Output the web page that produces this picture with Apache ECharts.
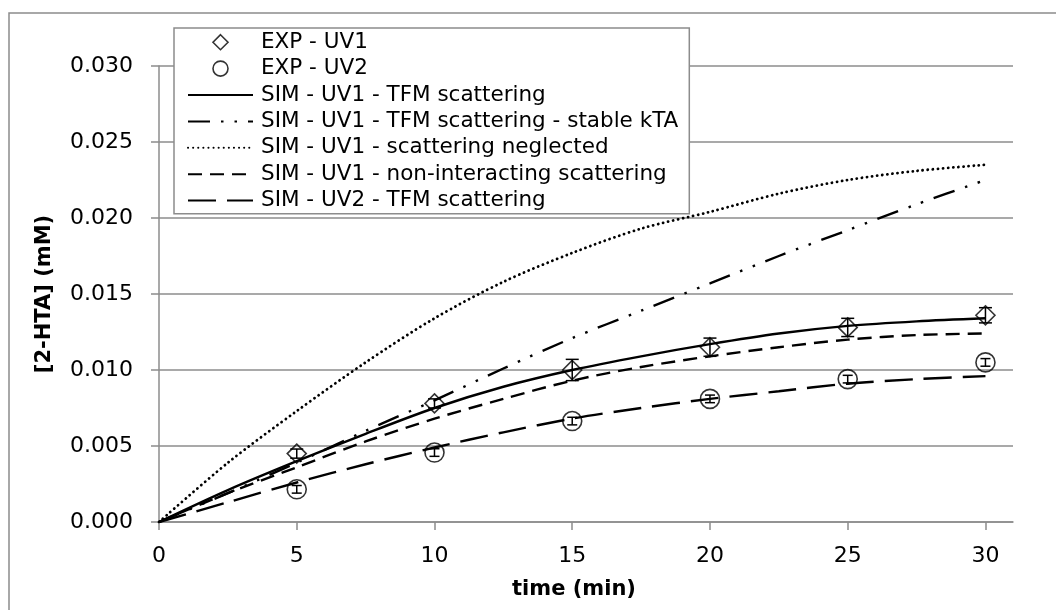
<!DOCTYPE html>
<html>
<head>
<meta charset="utf-8">
<script src="https://cdn.jsdelivr.net/npm/echarts@6/dist/echarts.min.js"></script>
<style>
html,body{margin:0;padding:0;background:#fff;}
#chart{width:1056px;height:610px;}
</style>
</head>
<body>
<div id="chart"></div>
<script>
// ---- data ----
const simTimes = [0, 2.5, 5, 7.5, 10, 12.5, 15, 17.5, 20, 22.5, 25, 27.5, 30];
const simUV1TFM      = [0, 0.0021, 0.0040, 0.0058, 0.0075, 0.0089, 0.0100, 0.0109, 0.0117, 0.0124, 0.0129, 0.0132, 0.0134];
const simUV1Stable   = [0, 0.0019, 0.0039, 0.0060, 0.0080, 0.0101, 0.0121, 0.0139, 0.0157, 0.0175, 0.0192, 0.0209, 0.0225];
const simUV1Neglect  = [0, 0.0039, 0.0073, 0.0105, 0.0134, 0.0158, 0.0177, 0.0193, 0.0204, 0.0216, 0.0225, 0.0231, 0.0235];
const simUV1NonInter = [0, 0.0019, 0.0036, 0.0053, 0.0068, 0.0081, 0.0093, 0.0102, 0.0109, 0.0115, 0.0120, 0.0123, 0.0124];
const simUV2TFM      = [0, 0.0013, 0.0026, 0.0038, 0.0049, 0.0059, 0.0068, 0.0075, 0.0081, 0.0086, 0.0091, 0.0094, 0.0096];

const expTimes = [5, 10, 15, 20, 25, 30];
const expUV1 = [0.0045, 0.0078, 0.0100, 0.0115, 0.0128, 0.0136];
const errUV1 = [0.0003, 0.0003, 0.0007, 0.0006, 0.0006, 0.0005];
const expUV2 = [0.00215, 0.00457, 0.00664, 0.0081, 0.0094, 0.0105];
const errUV2 = [0.00025, 0.00025, 0.00025, 0.00025, 0.00025, 0.00025];

const xTicks = [0, 5, 10, 15, 20, 25, 30];

const seriesNames = [
  'EXP - UV1',
  'EXP - UV2',
  'SIM - UV1 - TFM scattering',
  'SIM - UV1 - TFM scattering - stable kTA',
  'SIM - UV1 - scattering neglected',
  'SIM - UV1 - non-interacting scattering',
  'SIM - UV2 - TFM scattering'
];
const xName = 'time (min)';
const yName = '[2-HTA] (mM)';

// ---- build ----
const zip = (xs, ys) => xs.map((x, i) => [x, ys[i]]);
const errData = (ys, es) => expTimes.map((x, i) => [x, ys[i] - es[i], ys[i] + es[i]]);

const FONT = 'DejaVu Sans';
const GRAY = '#8c8c8c';
const HOLLOW = { color: 'rgba(255,255,255,0)', borderColor: '#000', borderWidth: 1.6 };

function errRender(capHalf) {
  return function (params, api) {
    const x = api.value(0);
    const lo = api.coord([x, api.value(1)]);
    const hi = api.coord([x, api.value(2)]);
    const st = { stroke: '#000', lineWidth: 1.5, fill: null };
    return {
      type: 'group',
      children: [
        { type: 'line', shape: { x1: lo[0], y1: lo[1], x2: hi[0], y2: hi[1] }, style: st },
        { type: 'line', shape: { x1: hi[0] - capHalf, y1: hi[1], x2: hi[0] + capHalf, y2: hi[1] }, style: st },
        { type: 'line', shape: { x1: lo[0] - capHalf, y1: lo[1], x2: lo[0] + capHalf, y2: lo[1] }, style: st }
      ]
    };
  };
}

function simLine(name, ys, type, cap, width) {
  return {
    name: name,
    type: 'line',
    data: zip(simTimes, ys),
    smooth: 0.3,
    symbol: 'none',
    showSymbol: false,
    lineStyle: { color: '#000', width: width || 2.4, type: type, cap: cap || 'butt' },
    itemStyle: { color: '#000' },
    z: 3
  };
}

const noSymbol = { color: 'rgba(0,0,0,0)', borderWidth: 0, borderColor: 'rgba(0,0,0,0)' };
const legendData = [
  { name: seriesNames[0], icon: 'path://M5,0L10,5L5,10L0,5Z', itemStyle: HOLLOW },
  { name: seriesNames[1], icon: 'circle', itemStyle: HOLLOW },
  { name: seriesNames[2], itemStyle: noSymbol },
  { name: seriesNames[3], itemStyle: noSymbol },
  { name: seriesNames[4], itemStyle: noSymbol },
  { name: seriesNames[5], itemStyle: noSymbol },
  { name: seriesNames[6], itemStyle: noSymbol }
];

const chart = echarts.init(document.getElementById('chart'), null, { renderer: 'canvas' });

chart.setOption({
  animation: false,
  backgroundColor: '#fff',
  textStyle: { fontFamily: FONT },
  graphic: [{
    type: 'rect',
    shape: { x: 9, y: 13, width: 1200, height: 800 },
    style: { fill: null, stroke: GRAY, lineWidth: 1.5 },
    silent: true,
    z: -10
  }],
  grid: { left: 159, top: 66, right: 43, bottom: 88, containLabel: false },
  xAxis: {
    type: 'value',
    min: 0, max: 31, interval: 5,
    name: xName,
    nameLocation: 'middle',
    nameGap: 57,
    nameTextStyle: { fontFamily: FONT, fontWeight: 'bold', fontSize: 21, color: '#000', padding: [0, 24, 0, 0] },
    axisLine: { show: true, onZero: false, lineStyle: { color: GRAY, width: 1.5 } },
    axisTick: { show: true, length: 8, customValues: xTicks, lineStyle: { color: GRAY, width: 1.5 } },
    axisLabel: { customValues: xTicks, margin: 23, fontSize: 22, color: '#000', fontFamily: FONT },
    splitLine: { show: false }
  },
  yAxis: {
    type: 'value',
    min: 0, max: 0.03, interval: 0.005,
    name: yName,
    nameLocation: 'middle',
    nameGap: 104,
    nameTextStyle: { fontFamily: FONT, fontWeight: 'bold', fontSize: 21, color: '#000' },
    axisLine: { show: true, lineStyle: { color: GRAY, width: 1.5 } },
    axisTick: { show: true, length: 8, lineStyle: { color: GRAY, width: 1.5 } },
    axisLabel: { margin: 26, fontSize: 22, color: '#000', fontFamily: FONT, formatter: v => v.toFixed(3) },
    splitLine: { show: true, lineStyle: { color: GRAY, width: 1.5 } }
  },
  legend: {
    data: legendData,
    orient: 'vertical',
    left: 174, top: 28,
    padding: [1, 11, 0, 13],
    itemGap: 0,
    itemWidth: 65,
    itemHeight: 15,
    symbolKeepAspect: true,
    backgroundColor: '#fff',
    borderColor: GRAY,
    borderWidth: 1.5,
    borderRadius: 0,
    textStyle: { fontFamily: FONT, fontSize: 21.5, color: '#000', lineHeight: 26.4, padding: [0, 0, 0, 3] },
    z: 10
  },
  series: [
    {
      name: seriesNames[0], type: 'scatter', data: zip(expTimes, expUV1),
      symbol: 'diamond', symbolSize: 19, itemStyle: HOLLOW, z: 4
    },
    {
      name: seriesNames[1], type: 'scatter', data: zip(expTimes, expUV2),
      symbol: 'circle', symbolSize: 19, itemStyle: HOLLOW, z: 4
    },
    simLine(seriesNames[2], simUV1TFM, 'solid'),
    simLine(seriesNames[3], simUV1Stable, [22, 11, 2.5, 11, 2.5, 11]),
    simLine(seriesNames[4], simUV1Neglect, [0.1, 5], 'round', 2.8),
    simLine(seriesNames[5], simUV1NonInter, [14, 8]),
    simLine(seriesNames[6], simUV2TFM, [28, 11]),
    {
      name: 'err1', type: 'custom', data: errData(expUV1, errUV1),
      renderItem: errRender(6.5), encode: { x: 0, y: [1, 2] }, z: 5, silent: true
    },
    {
      name: 'err2', type: 'custom', data: errData(expUV2, errUV2),
      renderItem: errRender(5), encode: { x: 0, y: [1, 2] }, z: 5, silent: true
    }
  ]
});
</script>
</body>
</html>
